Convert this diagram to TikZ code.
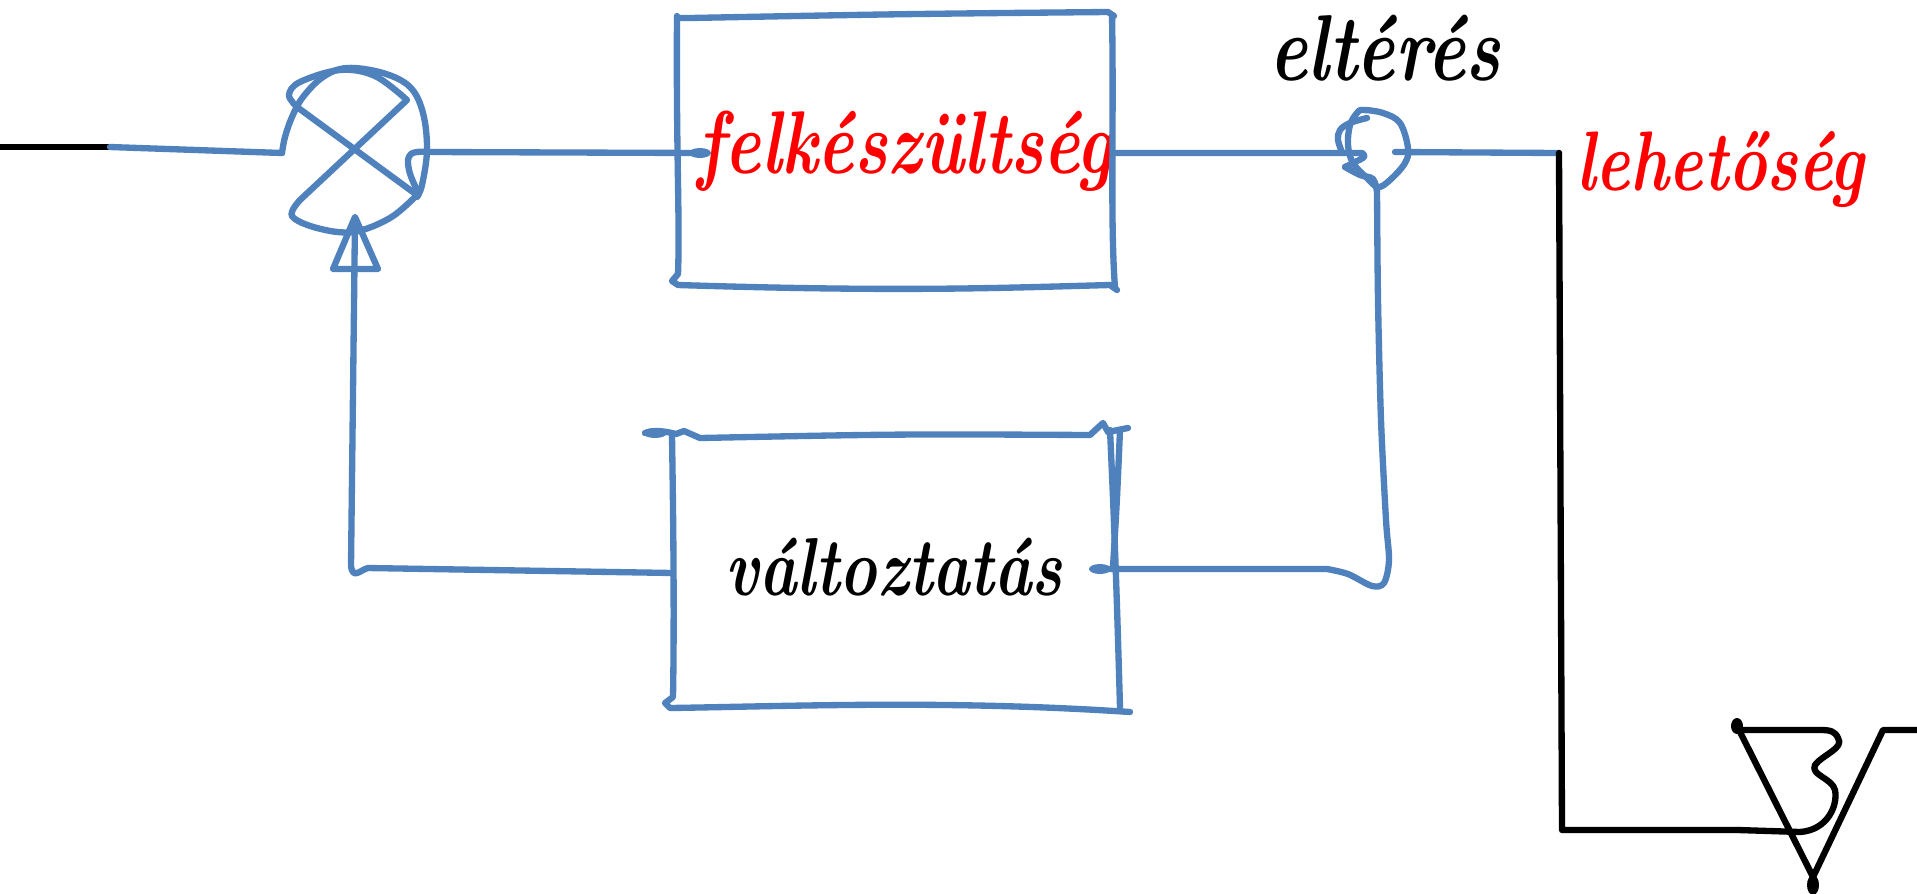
\documentclass[tikz,border=0pt]{standalone}
\usepackage{fontspec}
\begin{document}
\definecolor{sblue}{RGB}{79,129,189}
\tikzset{
  bl/.style={draw=sblue, line width=3.6pt, line cap=round, line join=round},
  bk/.style={draw=black, line width=3.6pt, line cap=round, line join=round},
  lbl/.style={inner sep=0pt, anchor=base},
}
\newcommand{\tall}[2]{{\fontsize{#1}{#1}\selectfont\bfseries\itshape\scalebox{1}[1.3]{#2}}}
\begin{tikzpicture}[x=0.02cm,y=-0.02cm]
\useasboundingbox[fill=white] (0,0) rectangle (1917,893);

% labels
\node[lbl, text=red] (felk) at (905,173) {\tall{39}{felkészültség}};
\node[lbl] (valt) at (894,595) {\tall{36}{változtatás}};
\node[lbl] (elt) at (1385,80) {\tall{41}{eltérés}};
\node[lbl, text=red] (leh) at (1720,190) {\tall{37}{lehetőség}};

% named points
\coordinate (in) at (0,147);
\coordinate (inb) at (110,147);
\coordinate (s1l) at (282,153);
\coordinate (s1r) at (430,152);
\coordinate (s1b) at (355,219);
\coordinate (b1l) at (700,153);
\coordinate (b1r) at (1115,153);
\coordinate (s2l) at (1362,153);
\coordinate (s2r) at (1395,152);
\coordinate (s2b) at (1377,190);
\coordinate (out) at (1559,153);
\coordinate (b2l) at (673,573);
\coordinate (b2r) at (1095,569);
\coordinate (gnd) at (1738,830);

% input
\draw[bk] (in) -- (inb);
\draw[bl] (inb) -- (s1l);

% summing junction 1
\draw[bl] plot[smooth, tension=0.6] coordinates {(282,153) (285,137) (292,117) (303,97) (323,77) (347,68) (383,73) (410,87) (423,113) (427,150) (422,185) (417,197)};
\draw[bl] plot[smooth, tension=0.6] coordinates {(297,107) (289,95) (300,82) (340,70) (375,76) (407,100)}
  -- (300,200)
  plot[smooth, tension=0.6] coordinates {(300,200) (292,216) (317,228) (353,232) (390,218) (417,195)}
  -- (297,107);
% arrow into junction 1
\draw[bl] (355,217) -- (333,269) -- (378,269) -- cycle;

% junction1 -> box1
\draw[bl] (b1l) -- (s1r) plot[smooth, tension=0.7] coordinates {(430,152) (411,154) (409,170) (418,192)};
\fill[sblue] (700,153) ellipse (11 and 5);

% box 1
\draw[bl] (677,18) -- (690,18) .. controls (900,14) .. (1108,12) -- (1114,16);
\draw[bl] (677,16) .. controls (676,150) and (680,220) .. (678,274) -- (672,281) -- (678,285)
  .. controls (900,292) and (1000,288) .. (1110,285) -- (1117,290);
\draw[bl] (1112,15) .. controls (1114,120) and (1110,220) .. (1115,288);

% box1 -> junction 2
\draw[bl] (b1r) -- (s2l) plot[smooth, tension=0.7] coordinates {(1362,153) (1364,157) (1355,162) (1345,167)};

% junction 2
\draw[bl] plot[smooth cycle, tension=0.6] coordinates {(1363,110) (1383,113) (1400,123) (1408,148) (1405,163) (1390,180) (1378,187) (1367,178) (1353,163) (1348,145) (1350,125) (1357,113)};
\draw[bl] plot[smooth, tension=0.6] coordinates {(1367,118) (1350,123) (1340,130) (1338,140) (1342,152)};
\draw[bl] plot[smooth, tension=0.6] coordinates {(1345,167) (1360,175) (1373,179) (1377,192)};

% junction 2 -> output
\draw[bl] (s2r) -- (out);
\draw[bk] (out) -- (1562,830) -- (gnd);

% feedback from junction 2 down to box 2
\draw[bl] plot[smooth, tension=0.5] coordinates {(1377,190) (1378,300) (1381,420) (1386,520) (1389,560) (1384,583) (1372,586) (1348,574) (1327,569)} -- (b2r);
\fill[sblue] (1100,569) ellipse (11 and 5);

% box 2
\fill[sblue] (655,433) ellipse (12 and 5);
\draw[bl] (645,433) .. controls (655,429) and (668,432) .. (676,434) -- (684,431) -- (700,438)
  .. controls (900,434) .. (1090,435) -- (1103,423) -- (1108,432) -- (1128,428);
\draw[bl] (672,436) .. controls (674,560) and (674,640) .. (673,697) -- (665,703) -- (670,708)
  .. controls (800,706) and (950,700) .. (1130,712);
\draw[bl] (1110,430) .. controls (1116,560) and (1118,640) .. (1120,707);
\draw[bl] (1120,430) .. controls (1117,500) .. (1113,567);

% feedback box 2 -> junction 1
\draw[bl] (b2l) -- (368,568) .. controls (360,570) and (353,580) .. (351,566) -- (s1b);

% output symbol
\draw[bk] (gnd) -- (1800,832) .. controls (1828,830) and (1838,805) .. (1835,790)
  .. controls (1832,778) and (1810,775) .. (1815,765)
  .. controls (1822,755) and (1845,748) .. (1838,738)
  .. controls (1835,731) and (1830,730) .. (1820,730) -- (1740,730);
\fill (1737,726) ellipse (6 and 8);
\draw[bk] (1737,726) -- (1813,877) -- (1883,730) -- (1917,730);
\fill (1813,885) ellipse (6 and 10);
\end{tikzpicture}
\end{document}
